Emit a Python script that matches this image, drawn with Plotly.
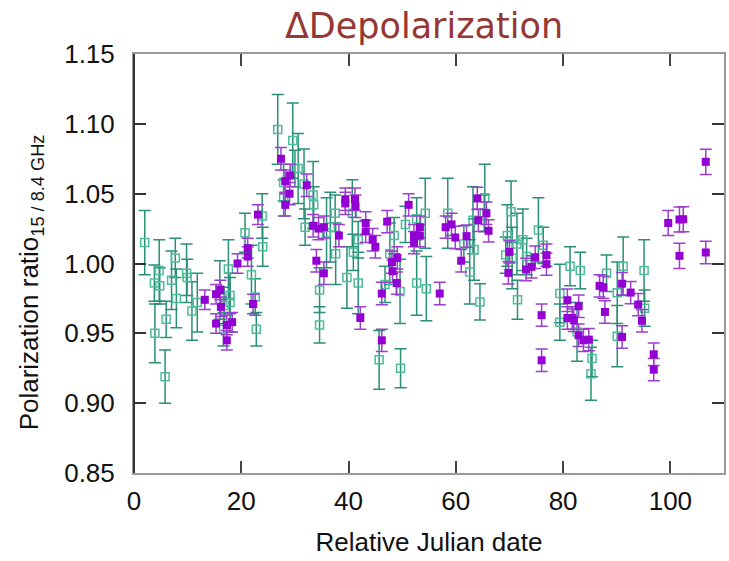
import plotly.graph_objects as go

# ---- data ----
green_day = [2.0, 3.9, 3.8, 4.7, 4.8, 5.8, 6.0, 7.0, 7.7, 7.9, 9.8, 9.9, 10.8, 11.8,
             16.0, 16.7, 16.8, 17.6, 17.9, 17.9, 20.7, 21.9, 22.6, 22.8, 23.9, 24.0,
             26.8, 27.9, 27.9, 29.6, 30.0, 30.6, 31.7, 31.9, 33.4, 33.5, 34.6, 34.6,
             35.9, 36.6, 37.5, 37.6, 39.7, 40.7, 40.9, 41.8, 41.8, 45.7, 46.8, 47.7,
             48.5, 49.6, 49.7, 50.6, 52.7, 52.7, 54.3, 54.5, 58.5, 61.5, 62.6, 63.2,
             63.4, 64.5, 65.4, 65.3, 69.3, 69.6, 70.3, 70.5, 71.4, 71.5, 72.5, 73.2,
             75.4, 76.3, 79.4, 79.4, 81.3, 83.2, 82.6, 85.4, 85.2, 88.1, 90.1, 90.1,
             91.2, 95.1, 95.2]
green_ratio = [1.015, 0.950, 0.986, 0.995, 0.984, 0.919, 0.960, 0.988, 1.004, 0.975, 0.993, 0.990, 0.966, 0.972,
               0.981, 0.953, 0.970, 0.996, 0.977, 0.972, 1.022, 0.992, 0.976, 0.953, 1.034, 1.012,
               1.096, 1.058, 1.047, 1.088, 1.068, 1.068, 1.057, 1.026, 1.049, 1.042, 0.981, 0.956,
               1.022, 1.026, 1.036, 1.007, 0.990, 1.036, 1.008, 1.017, 0.986, 0.931, 0.985, 1.007,
               1.020, 0.980, 0.925, 1.028, 1.032, 0.986, 1.036, 0.982, 1.036, 1.014, 0.994, 1.031,
               1.010, 0.9725, 1.047, 1.036, 1.006, 1.020, 1.037, 1.004, 1.014, 0.974, 1.017, 1.005,
               1.024, 1.013, 0.9785, 0.958, 0.998, 0.995, 0.951, 0.932, 0.921, 0.993, 0.979, 0.948,
               0.998, 0.995, 0.968]
green_err = [0.023, 0.021, 0.013, 0.022, 0.013, 0.019, 0.013, 0.021, 0.014, 0.021, 0.021, 0.013, 0.021, 0.021,
             0.021, 0.012, 0.013, 0.021, 0.013, 0.021, 0.014, 0.021, 0.013, 0.012, 0.016, 0.014,
             0.025, 0.013, 0.013, 0.027, 0.013, 0.025, 0.025, 0.013, 0.024, 0.013, 0.016, 0.013,
             0.025, 0.025, 0.013, 0.022, 0.022, 0.024, 0.013, 0.013, 0.022, 0.021, 0.013, 0.022,
             0.013, 0.023, 0.014, 0.013, 0.015, 0.023, 0.025, 0.023, 0.025, 0.013, 0.023, 0.024,
             0.022, 0.013, 0.024, 0.013, 0.013, 0.022, 0.022, 0.022, 0.022, 0.014, 0.022, 0.013,
             0.023, 0.013, 0.021, 0.013, 0.014, 0.013, 0.021, 0.013, 0.019, 0.013, 0.022, 0.022,
             0.021, 0.022, 0.013]

purple_day = [13.2, 15.3, 15.3, 16.1, 16.2, 17.3, 17.3, 18.3, 19.3, 21.2, 21.2, 22.2, 23.1,
              27.4, 28.2, 28.2, 29.1, 29.0, 32.2, 33.4, 34.4, 35.4, 34.0, 35.4, 38.2,
              39.4, 39.4, 41.2, 41.3, 42.2, 43.2, 43.2, 44.5, 45.0, 46.2, 46.2, 47.2,
              48.1, 48.2, 49.0, 49.1, 51.2, 52.2, 52.2, 53.3, 53.3, 57.0, 58.1, 59.2,
              59.9, 61.0, 62.0, 64.0, 64.2, 65.7, 66.1, 69.8, 70.0, 73.1, 74.1, 74.8,
              76.0, 76.0, 76.9, 76.9, 80.8, 80.8, 81.7, 82.0, 82.9, 82.9, 83.8, 84.8,
              86.8, 87.5, 87.8, 91.0, 91.0, 92.6, 94.0, 94.7, 96.9, 96.9, 99.6, 101.7,
              102.4, 101.7, 106.6, 106.6]
purple_ratio = [0.974, 0.978, 0.957, 0.981, 0.969, 0.945, 0.956, 0.958, 1.000, 1.011, 1.005, 0.971, 1.035,
                1.075, 1.059, 1.042, 1.063, 1.050, 1.056, 1.027, 1.025, 1.026, 1.002, 0.993, 1.020,
                1.046, 1.043, 1.046, 1.041, 0.961, 1.029, 1.023, 1.017, 1.012, 0.9785, 0.945, 1.030,
                1.001, 0.9945, 0.986, 1.004, 1.042, 1.015, 1.020, 1.026, 1.020, 0.9785, 1.026, 1.028,
                1.0186, 1.002, 1.0196, 1.0466, 1.031, 1.036, 1.0234, 0.9933, 1.0083, 0.9957, 0.9976, 1.0045,
                0.963, 0.9307, 1.006, 0.9995, 0.9737, 0.961, 0.961, 0.9594, 0.9694, 0.9486, 0.945, 0.9455,
                0.984, 0.983, 0.9653, 0.9855, 0.9474, 0.9792, 0.9706, 0.959, 0.935, 0.924, 1.029, 1.0315,
                1.0317, 1.0055, 1.0728, 1.0079]
purple_err = [0.007] * 13 + [0.008] * 70 + [0.009, 0.009, 0.009, 0.009, 0.009, 0.008]

x_ticks = [0, 20, 40, 60, 80, 100]

TXT = "Liberation Sans, Arial, sans-serif"

fig = go.Figure()
fig.add_trace(go.Scatter(
    x=green_day, y=green_ratio, mode="markers",
    error_y=dict(type="data", array=green_err, color="#2a8f78", thickness=1.5, width=6),
    marker=dict(symbol="square-open", size=8, color="#4dbd99", line=dict(width=1.5)),
    showlegend=False,
))
fig.add_trace(go.Scatter(
    x=purple_day, y=purple_ratio, mode="markers",
    error_y=dict(type="data", array=purple_err, color="#9a3fcf", thickness=1.5, width=6),
    marker=dict(symbol="square", size=8, color="#9400d3"),
    showlegend=False,
))

fig.update_layout(
    width=729, height=561,
    margin=dict(l=134, r=3, t=54, b=88),
    paper_bgcolor="white", plot_bgcolor="white",
    showlegend=False,
    title=dict(text="ΔDepolarization", font=dict(family="DejaVu Sans", size=35, color="#953735"),
               x=424 / 729, xref="container", xanchor="center",
               y=1 - 26 / 561, yref="container", yanchor="middle"),
    font=dict(family=TXT, color="#111111"),
)
fig.update_xaxes(
    range=[0, 110], tickvals=x_ticks, ticks="inside", ticklen=12, tickwidth=1.5, tickcolor="#444",
    showline=True, linecolor="#999", linewidth=2, mirror="ticks", showgrid=False, zeroline=False,
    tickfont=dict(family=TXT, size=26, color="#111"), ticklabelstandoff=4,
    title=dict(text="Relative Julian date", font=dict(family=TXT, size=26, color="#111"), standoff=18),
)
fig.update_yaxes(
    range=[0.85, 1.15], dtick=0.05, tick0=0.85, tickformat=".2f", ticks="inside", ticklen=12,
    tickwidth=1.5, tickcolor="#333",
    showline=True, linecolor="#999", linewidth=2, mirror="ticks", showgrid=False, zeroline=False,
    tickfont=dict(family=TXT, size=26, color="#111"), ticklabelstandoff=12,
)
fig.add_shape(type="line", xref="paper", yref="paper", x0=0, x1=0, y0=0, y1=1,
              line=dict(color="#333", width=2))
fig.add_annotation(
    text="Polarization ratio<sub>15 / 8.4 GHz</sub>", textangle=-90,
    xref="paper", yref="paper", x=(30 - 134) / 592, y=(473 - 282) / 419,
    xanchor="center", yanchor="middle", showarrow=False,
    font=dict(family=TXT, size=26, color="#111"),
)

fig.write_html("out.html")
